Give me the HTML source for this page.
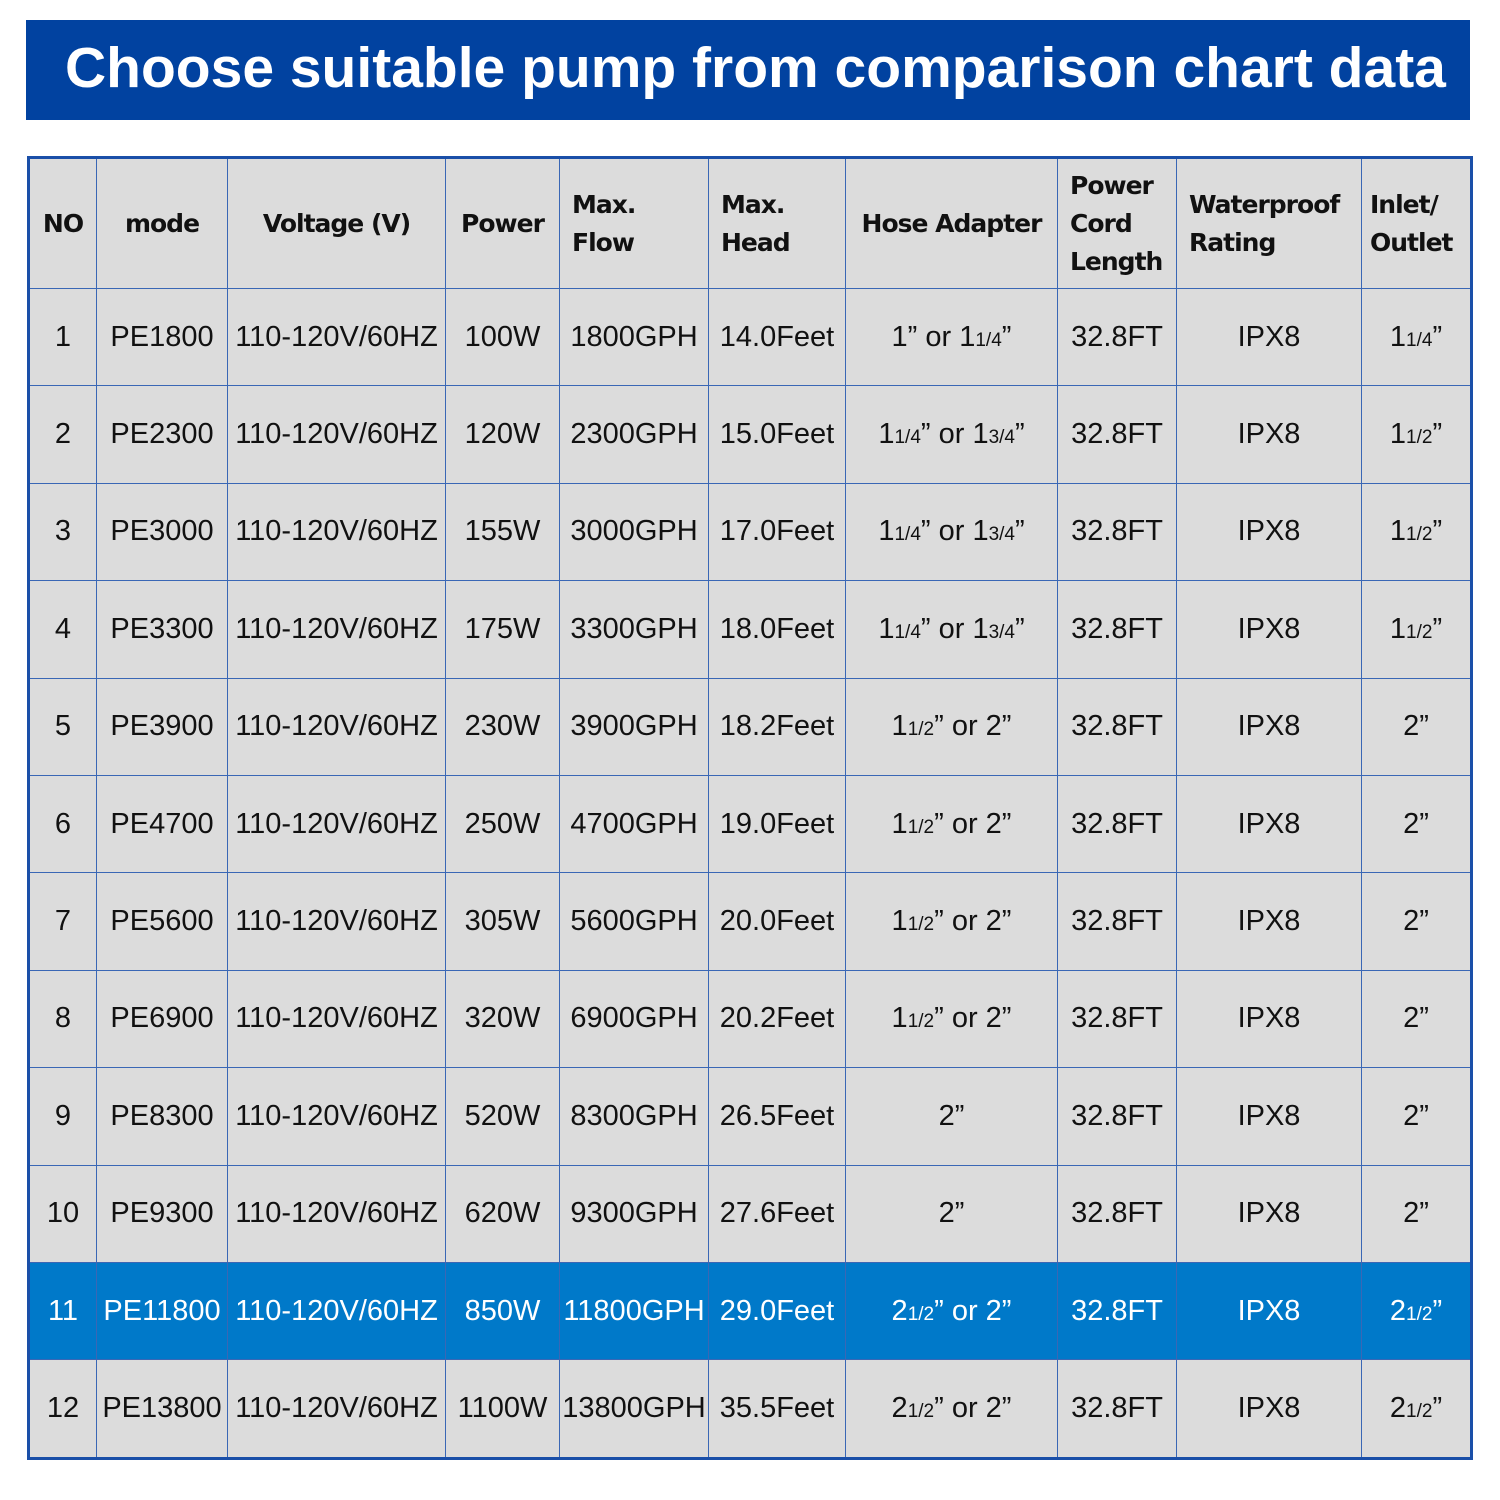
<!DOCTYPE html>
<html><head><meta charset="utf-8"><style>
body{margin:0;width:1500px;height:1500px;background:#fff;position:relative;overflow:hidden;font-family:"Liberation Sans",sans-serif}
.ban{position:absolute;left:26px;top:20px;width:1444px;height:100px;background:#0142a0;color:#fff;font-weight:bold;font-size:57px;line-height:96px;text-indent:39px;white-space:nowrap;letter-spacing:0px}
table{position:absolute;left:27px;top:156px;border-collapse:collapse;table-layout:fixed;width:1443px;border:3px solid #1a4fa8}
td{border:1.5px solid #3a67b5;background:#dcdcdc;text-align:center;font-size:29px;color:#111;height:96.4px;padding:0;white-space:nowrap;font-weight:normal}
tr.h td{height:129px;font-family:"DejaVu Sans",sans-serif;font-weight:bold;font-size:25px;letter-spacing:-1px;line-height:38px}
tr.h td.l{text-align:left;padding-left:12px}
tr.hi td{background:#0079c9;color:#fff}
small{font-size:19px}
</style></head><body>
<div class="ban">Choose suitable pump from comparison chart data</div>
<table>
<colgroup><col style="width:68px"><col style="width:131px"><col style="width:218px"><col style="width:114px"><col style="width:149px"><col style="width:137px"><col style="width:212px"><col style="width:119px"><col style="width:185px"><col style="width:110px"></colgroup>
<tr class="h"><td>NO</td><td>mode</td><td>Voltage (V)</td><td>Power</td><td class="l">Max.<br>Flow</td><td class="l">Max.<br>Head</td><td>Hose Adapter</td><td class="l">Power<br>Cord<br>Length</td><td class="l">Waterproof<br>Rating</td><td class="l" style="padding-left:8px">Inlet/<br>Outlet</td></tr>
<tr><td>1</td><td>PE1800</td><td>110-120V/60HZ</td><td>100W</td><td>1800GPH</td><td>14.0Feet</td><td>1” or 1<small>1/4</small>”</td><td>32.8FT</td><td>IPX8</td><td>1<small>1/4</small>”</td></tr>
<tr><td>2</td><td>PE2300</td><td>110-120V/60HZ</td><td>120W</td><td>2300GPH</td><td>15.0Feet</td><td>1<small>1/4</small>” or 1<small>3/4</small>”</td><td>32.8FT</td><td>IPX8</td><td>1<small>1/2</small>”</td></tr>
<tr><td>3</td><td>PE3000</td><td>110-120V/60HZ</td><td>155W</td><td>3000GPH</td><td>17.0Feet</td><td>1<small>1/4</small>” or 1<small>3/4</small>”</td><td>32.8FT</td><td>IPX8</td><td>1<small>1/2</small>”</td></tr>
<tr><td>4</td><td>PE3300</td><td>110-120V/60HZ</td><td>175W</td><td>3300GPH</td><td>18.0Feet</td><td>1<small>1/4</small>” or 1<small>3/4</small>”</td><td>32.8FT</td><td>IPX8</td><td>1<small>1/2</small>”</td></tr>
<tr><td>5</td><td>PE3900</td><td>110-120V/60HZ</td><td>230W</td><td>3900GPH</td><td>18.2Feet</td><td>1<small>1/2</small>” or 2”</td><td>32.8FT</td><td>IPX8</td><td>2”</td></tr>
<tr><td>6</td><td>PE4700</td><td>110-120V/60HZ</td><td>250W</td><td>4700GPH</td><td>19.0Feet</td><td>1<small>1/2</small>” or 2”</td><td>32.8FT</td><td>IPX8</td><td>2”</td></tr>
<tr><td>7</td><td>PE5600</td><td>110-120V/60HZ</td><td>305W</td><td>5600GPH</td><td>20.0Feet</td><td>1<small>1/2</small>” or 2”</td><td>32.8FT</td><td>IPX8</td><td>2”</td></tr>
<tr><td>8</td><td>PE6900</td><td>110-120V/60HZ</td><td>320W</td><td>6900GPH</td><td>20.2Feet</td><td>1<small>1/2</small>” or 2”</td><td>32.8FT</td><td>IPX8</td><td>2”</td></tr>
<tr><td>9</td><td>PE8300</td><td>110-120V/60HZ</td><td>520W</td><td>8300GPH</td><td>26.5Feet</td><td>2”</td><td>32.8FT</td><td>IPX8</td><td>2”</td></tr>
<tr><td>10</td><td>PE9300</td><td>110-120V/60HZ</td><td>620W</td><td>9300GPH</td><td>27.6Feet</td><td>2”</td><td>32.8FT</td><td>IPX8</td><td>2”</td></tr>
<tr class="hi"><td>11</td><td>PE11800</td><td>110-120V/60HZ</td><td>850W</td><td>11800GPH</td><td>29.0Feet</td><td>2<small>1/2</small>” or 2”</td><td>32.8FT</td><td>IPX8</td><td>2<small>1/2</small>”</td></tr>
<tr><td>12</td><td>PE13800</td><td>110-120V/60HZ</td><td>1100W</td><td>13800GPH</td><td>35.5Feet</td><td>2<small>1/2</small>” or 2”</td><td>32.8FT</td><td>IPX8</td><td>2<small>1/2</small>”</td></tr>
</table>
</body></html>
